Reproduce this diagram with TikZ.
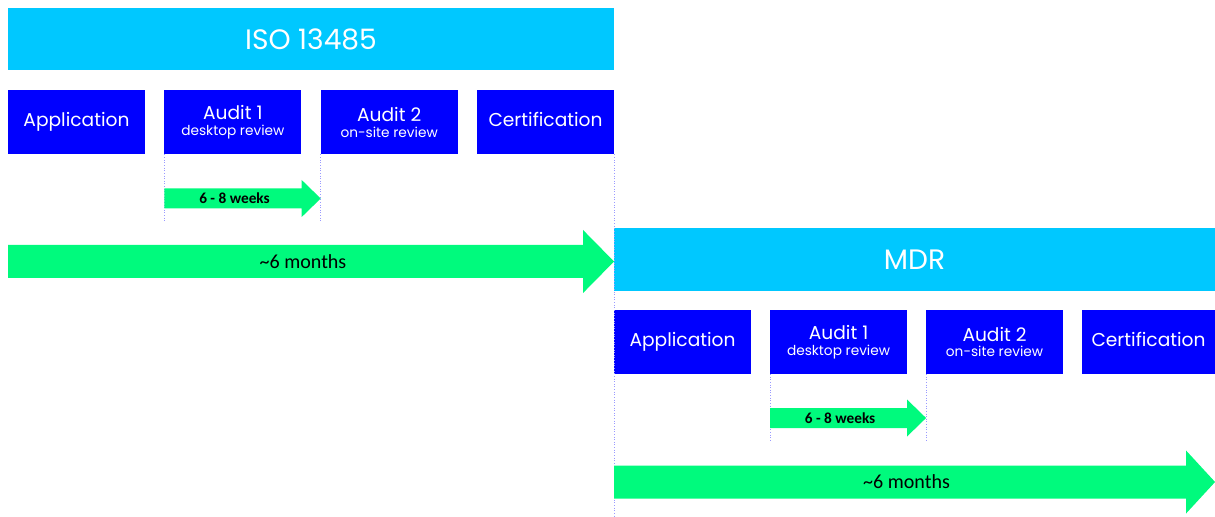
\documentclass[tikz,border=0pt]{standalone}
\usepackage{fontspec}
\usepackage{xcolor}
\usepackage{tikz}
\usetikzlibrary{positioning,calc}
\newfontfamily\etapafont{Poppins}
\newfontfamily\setafont{Carlito}
\definecolor{ciano}{HTML}{00C8FF}
\definecolor{azul}{HTML}{0000FF}
\definecolor{verde}{HTML}{00FA7D}
\definecolor{guia}{HTML}{9A9AFF}
\tikzset{
    cabecalho/.style={
        rectangle,
        fill=ciano,
        text=white,
        inner sep=0pt,
        outer sep=0pt,
        minimum width=12.12cm,
        minimum height=1.25cm,
        font=\etapafont\fontsize{16}{19}\selectfont
    },
    etapa/.style={
        rectangle,
        fill=azul,
        text=white,
        inner sep=0pt,
        outer sep=0pt,
        align=center,
        minimum width=2.74cm,
        minimum height=1.28cm,
        font=\etapafont\fontsize{10.6}{12}\selectfont
    },
    etapaSimples/.style={etapa, text height=1.6ex, text depth=0.45ex},
    seta/.style={fill=verde},
    rotulo/.style={inner sep=0pt, font=\setafont\fontsize{11.4}{13}\selectfont},
    rotuloCurto/.style={inner sep=0pt, font=\setafont\bfseries\fontsize{8.7}{10}\selectfont},
    guiaLinha/.style={draw=guia, densely dotted, line width=0.5pt}
}

\begin{document}
\begin{tikzpicture}
    \useasboundingbox (0,0) rectangle (24.3,-10.34);

    % ISO 13485
    \node[cabecalho, anchor=north west] (iso) at (0.16,-0.16) {ISO 13485};
    \node[etapaSimples, anchor=north west] (isoapp) at ([yshift=-0.4cm]iso.south west) {Application};
    \node[etapa, right=0.387cm of isoapp] (isoa1) {Audit 1\\[-3pt]{\fontsize{7.8}{8}\selectfont desktop review}};
    \node[etapa, right=0.387cm of isoa1] (isoa2) {Audit 2\\[-3pt]{\fontsize{7.8}{8}\selectfont on-site review}};
    \node[etapaSimples, right=0.387cm of isoa2] (isocert) {Certification};

    \coordinate (isocurtaA) at ($(isoa1.south west)+(0,-0.88)$);
    \coordinate (isocurtaB) at ($(isoa2.south west)+(0,-0.88)$);
    \coordinate (isolongaA) at ($(isoapp.south west)+(0,-2.14)$);
    \coordinate (isolongaB) at ($(isocert.south east)+(0,-2.14)$);
    \coordinate (isobase) at ($(isocert.south east)+(0,-7.26)$);

    \draw[guiaLinha] (isoa1.south west) -- ++(0,-1.36);
    \draw[guiaLinha] (isoa2.south west) -- ++(0,-1.36);

    \fill[seta] ($(isocurtaA)+(0,0.2)$) -- ($(isocurtaB)+(-0.38,0.2)$) -- ++(0,0.17) -- (isocurtaB)
        -- ++(-0.38,-0.37) -- ++(0,0.17) -- ($(isocurtaA)+(0,-0.2)$) -- cycle;
    \node[rotuloCurto] (isosemanas) at ($(isocurtaA)!0.5!(isocurtaB)+(-0.16,0)$) {6 - 8 weeks};

    \fill[seta] ($(isolongaA)+(0,0.33)$) -- ($(isolongaB)+(-0.62,0.33)$) -- ++(0,0.3) -- (isolongaB)
        -- ++(-0.62,-0.63) -- ++(0,0.3) -- ($(isolongaA)+(0,-0.33)$) -- cycle;
    \node[rotulo] (isomeses) at ($(isolongaA)!0.5!(isolongaB)+(-0.16,0)$) {\textasciitilde 6 months};

    % MDR
    \node[cabecalho, anchor=north west, minimum width=12.02cm] (mdr) at ([yshift=-1.48cm]isocert.south east) {MDR};
    \node[etapaSimples, anchor=north west] (mdrapp) at ([yshift=-0.38cm]mdr.south west) {Application};
    \node[etapa, right=0.38cm of mdrapp] (mdra1) {Audit 1\\[-3pt]{\fontsize{7.8}{8}\selectfont desktop review}};
    \node[etapa, right=0.38cm of mdra1] (mdra2) {Audit 2\\[-3pt]{\fontsize{7.8}{8}\selectfont on-site review}};
    \node[etapaSimples, right=0.38cm of mdra2, minimum width=2.66cm] (mdrcert) {Certification};

    \coordinate (mdrcurtaA) at ($(mdra1.south west)+(0,-0.88)$);
    \coordinate (mdrcurtaB) at ($(mdra2.south west)+(0,-0.88)$);
    \coordinate (mdrlongaA) at ($(mdrapp.south west)+(0,-2.16)$);
    \coordinate (mdrlongaB) at ($(mdrcert.south east)+(0,-2.16)$);

    \draw[guiaLinha] (isocert.south east) -- (isobase);
    \draw[guiaLinha] (mdra1.south west) -- ++(0,-1.36);
    \draw[guiaLinha] (mdra2.south west) -- ++(0,-1.36);

    \fill[seta] ($(mdrcurtaA)+(0,0.2)$) -- ($(mdrcurtaB)+(-0.38,0.2)$) -- ++(0,0.17) -- (mdrcurtaB)
        -- ++(-0.38,-0.37) -- ++(0,0.17) -- ($(mdrcurtaA)+(0,-0.2)$) -- cycle;
    \node[rotuloCurto] (mdrsemanas) at ($(mdrcurtaA)!0.5!(mdrcurtaB)+(-0.16,0)$) {6 - 8 weeks};

    \fill[seta] ($(mdrlongaA)+(0,0.33)$) -- ($(mdrlongaB)+(-0.58,0.33)$) -- ++(0,0.3) -- (mdrlongaB)
        -- ++(-0.58,-0.63) -- ++(0,0.3) -- ($(mdrlongaA)+(0,-0.33)$) -- cycle;
    \node[rotulo] (mdrmeses) at ($(mdrlongaA)!0.5!(mdrlongaB)+(-0.16,0)$) {\textasciitilde 6 months};
\end{tikzpicture}
\end{document}
